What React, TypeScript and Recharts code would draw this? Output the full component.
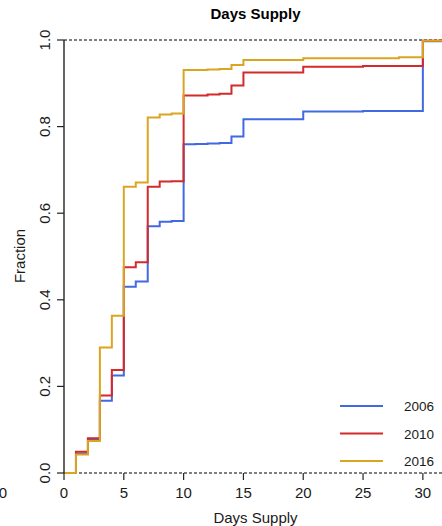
import { LineChart, Line, XAxis, YAxis, ReferenceLine } from 'recharts';

// Empirical CDF of days supply, one step series per year
const days = [0, 1, 2, 3, 4, 5, 6, 7, 8, 9, 10, 11, 12, 13, 14, 15, 20, 25, 28, 30, 32];
const fraction2006 = [0, 0.045, 0.078, 0.167, 0.225, 0.43, 0.442, 0.57, 0.58, 0.582, 0.759, 0.76, 0.761, 0.762, 0.777, 0.817, 0.835, 0.836, 0.836, 0.997, 0.997];
const fraction2010 = [0, 0.049, 0.08, 0.179, 0.238, 0.475, 0.487, 0.661, 0.673, 0.674, 0.872, 0.872, 0.874, 0.876, 0.895, 0.925, 0.938, 0.94, 0.94, 0.998, 0.998];
const fraction2016 = [0, 0.043, 0.074, 0.29, 0.363, 0.661, 0.671, 0.821, 0.828, 0.83, 0.931, 0.931, 0.932, 0.933, 0.942, 0.954, 0.958, 0.958, 0.96, 0.998, 0.998];

const xTicks = [0, 5, 10, 15, 20, 25, 30];
const yTicks = [0, 0.2, 0.4, 0.6, 0.8, 1.0];

const years = [
  { key: 'y2006', label: '2006', color: '#4169E1' },
  { key: 'y2010', label: '2010', color: '#D42A2A' },
  { key: 'y2016', label: '2016', color: '#DAA520' },
];

const data = days.map((day, i) => ({
  day,
  y2006: fraction2006[i],
  y2010: fraction2010[i],
  y2016: fraction2016[i],
}));

const FONT = '"Liberation Sans", Arial, Helvetica, sans-serif';
const TEXT = '#1a1a1a';

function YTick({ x, y, payload }: any) {
  return (
    <text
      x={x}
      y={y}
      transform={`rotate(-90, ${x}, ${y})`}
      textAnchor="middle"
      fontSize={15}
      fill={TEXT}
      fontFamily={FONT}
    >
      {Number(payload.value).toFixed(1)}
    </text>
  );
}

function XTick({ x, y, payload }: any) {
  return (
    <text x={x} y={y} dy="0.71em" textAnchor="middle" fontSize={15} fill={TEXT} fontFamily={FONT}>
      {payload.value}
    </text>
  );
}

export default function App() {
  return (
    <div style={{ position: 'absolute', left: 0, top: 0, width: 442, height: 526, background: '#fff', overflow: 'hidden' }}>
      <LineChart width={442} height={526} data={data} margin={{ top: 40, right: 0, bottom: 0, left: 0 }}>
        <XAxis
          dataKey="day"
          type="number"
          domain={[0, 31.6]}
          allowDataOverflow
          ticks={xTicks}
          interval={0}
          height={53}
          axisLine={false}
          tickLine={{ stroke: '#222', strokeWidth: 1.2 }}
          tickSize={7}
          tickMargin={7}
          tick={<XTick />}
        />
        <YAxis
          type="number"
          domain={[0, 1]}
          ticks={yTicks}
          interval={0}
          width={64}
          axisLine={{ stroke: '#111', strokeWidth: 1.3 }}
          tickLine={{ stroke: '#222', strokeWidth: 1.2 }}
          tickSize={7}
          tickMargin={7}
          tick={<YTick />}
        />
        <ReferenceLine y={0} stroke="#555" strokeWidth={1.5} strokeDasharray="3 2" ifOverflow="extendDomain" />
        <ReferenceLine y={1} stroke="#555" strokeWidth={1.5} strokeDasharray="3 2" ifOverflow="extendDomain" />
        {years.map((s) => (
          <Line
            key={s.key}
            type="stepAfter"
            dataKey={s.key}
            stroke={s.color}
            strokeWidth={2}
            dot={false}
            activeDot={false}
            isAnimationActive={false}
          />
        ))}
      </LineChart>
      <svg
        width={442}
        height={526}
        style={{ position: 'absolute', left: 0, top: 0, pointerEvents: 'none' }}
        fontFamily={FONT}
      >
        <text x={255.5} y={19} textAnchor="middle" fontSize={15} fontWeight="bold" fill="#000">
          Days Supply
        </text>
        <text x={255.5} y={523} textAnchor="middle" fontSize={15} fill={TEXT}>
          Days Supply
        </text>
        <text x={25} y={256} transform="rotate(-90, 25, 256)" textAnchor="middle" fontSize={15} fill={TEXT}>
          Fraction
        </text>
        {/* edge of the neighbouring panel's axis label */}
        <text x={7} y={498} textAnchor="end" fontSize={15} fill={TEXT}>
          30
        </text>
        {years.map((s, i) => {
          const ly = 406 + i * 27.5;
          return (
            <g key={s.key}>
              <line x1={340} x2={383} y1={ly} y2={ly} stroke={s.color} strokeWidth={2} />
              <text x={404} y={ly + 5} fontSize={13.5} fill={TEXT}>
                {s.label}
              </text>
            </g>
          );
        })}
      </svg>
    </div>
  );
}
